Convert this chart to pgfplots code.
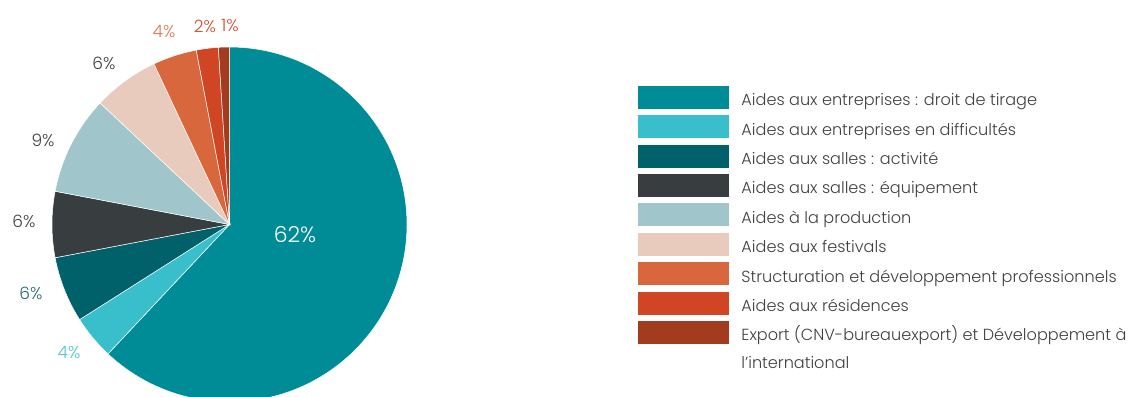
\documentclass[border=0pt]{standalone}
\usepackage{fontspec}
\setmainfont{Poppins Light}
\usepackage{pgfplots}
\pgfplotsset{compat=1.18}
\definecolor{cA}{HTML}{008C96}
\definecolor{cB}{HTML}{38BFCB}
\definecolor{cC}{HTML}{00616A}
\definecolor{cD}{HTML}{383D40}
\definecolor{cE}{HTML}{A0C6CB}
\definecolor{cF}{HTML}{E8CBBC}
\definecolor{cG}{HTML}{D8673E}
\definecolor{cH}{HTML}{D04524}
\definecolor{cI}{HTML}{A33B1F}
\definecolor{txt}{HTML}{404040}
\definecolor{lOr}{HTML}{E2744E}
\definecolor{lRd}{HTML}{D24A2A}
\definecolor{lTe}{HTML}{1E6B73}
\definecolor{lCy}{HTML}{4CC6D0}
\begin{document}
\begin{tikzpicture}
\begin{axis}[
  name=main,
  scale only axis, width=1131bp, height=397bp,
  xmin=0, xmax=1131, ymin=0, ymax=397,
  hide axis,
  legend cell align=left,
  legend style={draw=none, fill=none, inner sep=0pt, row sep=0pt,
    at={(axis cs:638,311.3)}, anchor=north west,
    font=\fontsize{16.1bp}{19bp}\selectfont, text=txt,
    nodes={inner sep=0pt, text height=18.5bp, text depth=9.5bp}},
  legend image code/.code={\fill[#1,draw=none] (0bp,-7.6bp) rectangle (91bp,15.4bp); \path (103bp,0bp);},
  every axis plot/.append style={draw=white, line width=0.5pt, samples=120, variable=\t},
]
% slices: cumulative percentages, clockwise from 12 o'clock
\addplot[fill=cA, domain=0:62]  ({229.5+177.5*sin(3.6*\t)},{172.5+177.5*cos(3.6*\t)}) -- (axis cs:229.5,172.5) -- cycle;
\addlegendentry{Aides aux entreprises : droit de tirage}
\addplot[fill=cB, domain=62:66] ({229.5+177.5*sin(3.6*\t)},{172.5+177.5*cos(3.6*\t)}) -- (axis cs:229.5,172.5) -- cycle;
\addlegendentry{Aides aux entreprises en difficultés}
\addplot[fill=cC, domain=66:72] ({229.5+177.5*sin(3.6*\t)},{172.5+177.5*cos(3.6*\t)}) -- (axis cs:229.5,172.5) -- cycle;
\addlegendentry{Aides aux salles : activité}
\addplot[fill=cD, domain=72:78] ({229.5+177.5*sin(3.6*\t)},{172.5+177.5*cos(3.6*\t)}) -- (axis cs:229.5,172.5) -- cycle;
\addlegendentry{Aides aux salles : équipement}
\addplot[fill=cE, domain=78:87] ({229.5+177.5*sin(3.6*\t)},{172.5+177.5*cos(3.6*\t)}) -- (axis cs:229.5,172.5) -- cycle;
\addlegendentry{Aides à la production}
\addplot[fill=cF, domain=87:93] ({229.5+177.5*sin(3.6*\t)},{172.5+177.5*cos(3.6*\t)}) -- (axis cs:229.5,172.5) -- cycle;
\addlegendentry{Aides aux festivals}
\addplot[fill=cG, domain=93:97] ({229.5+177.5*sin(3.6*\t)},{172.5+177.5*cos(3.6*\t)}) -- (axis cs:229.5,172.5) -- cycle;
\addlegendentry{Structuration et développement professionnels}
\addplot[fill=cH, domain=97:99] ({229.5+177.5*sin(3.6*\t)},{172.5+177.5*cos(3.6*\t)}) -- (axis cs:229.5,172.5) -- cycle;
\addlegendentry{Aides aux résidences}
\addplot[fill=cI, domain=99:100] ({229.5+177.5*sin(3.6*\t)},{172.5+177.5*cos(3.6*\t)}) -- (axis cs:229.5,172.5) -- cycle;
\addlegendentry{Export (CNV-bureauexport) et Développement à}
\addlegendimage{empty legend}
\addlegendentry{l’international}
% labels
\begin{scope}[every node/.style={font=\fontsize{17bp}{20bp}\selectfont, inner sep=0pt}]
\node[text=white, font=\fontsize{22bp}{26bp}\selectfont] at (axis cs:295,162) {62\%};
\node[text=lCy] at (axis cs:69,44) {4\%};
\node[text=lTe] at (axis cs:31,104) {6\%};
\node[text=txt] at (axis cs:24,176) {6\%};
\node[text=txt] at (axis cs:43,257) {9\%};
\node[text=txt] at (axis cs:104,334) {6\%};
\node[text=lOr] at (axis cs:164,365) {4\%};
\node[text=lRd] at (axis cs:205,371) {2\%};
\node[text=lRd] at (axis cs:230,371) {1\%};
\end{scope}
\end{axis}
\pgfresetboundingbox
\useasboundingbox (main.south west) rectangle (main.north east);
\end{tikzpicture}
\end{document}
